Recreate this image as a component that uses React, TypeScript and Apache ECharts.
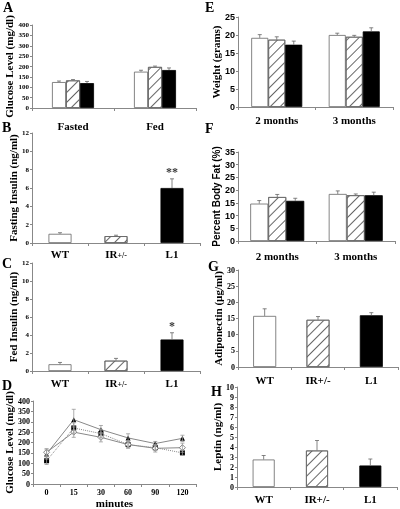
import React, { useEffect, useRef } from 'react';
import * as echarts from 'echarts';

// ---------- DATA ----------
const aCategories = ['Fasted', 'Fed'];
const aWT = [125, 175];
const aWTErr = [5, 7];
const aIR = [133, 198];
const aIRErr = [4, 4];
const aL1 = [120, 183];
const aL1Err = [8, 10];

const genotypes = ['WT', 'IR+/-', 'L1'];

const bValues = [1.0, 0.75, 6.0];
const bErr = [0.12, 0.1, 1.0];
const bMarks = ['', '', '**'];

const cValues = [0.75, 1.15, 3.5];
const cErr = [0.2, 0.25, 0.75];
const cMarks = ['', '', '*'];

const minutes = ['0', '15', '30', '60', '90', '120'];
const dTriangle = [145, 310, 262, 222, 195, 220];
const dTriangleErr = [25, 50, 20, 20, 10, 15];
const dSquare = [112, 270, 243, 190, 175, 150];
const dSquareErr = [18, 25, 20, 15, 12, 12];
const dDiamond = [153, 250, 225, 190, 172, 175];
const dDiamondErr = [15, 25, 22, 18, 18, 22];

const ageCategories = ['2 months', '3 months'];
const eWT = [19.2, 20.0];
const eWTErr = [0.9, 0.5];
const eIR = [18.7, 19.5];
const eIRErr = [0.8, 0.4];
const eL1 = [17.3, 21.0];
const eL1Err = [1.0, 1.0];

const fWT = [14.7, 18.5];
const fWTErr = [1.2, 1.2];
const fIR = [17.3, 18.0];
const fIRErr = [1.0, 0.5];
const fL1 = [15.8, 18.0];
const fL1Err = [1.0, 1.2];

const gValues = [15.8, 14.6, 16.0];
const gErr = [2.2, 1.0, 0.8];

const hValues = [2.75, 3.65, 2.15];
const hErr = [0.4, 1.0, 0.65];

// ---------- STYLES ----------
const serif = '"Liberation Serif", "Times New Roman", serif';
const sans = '"Liberation Sans", Arial, sans-serif';
const axisGray = '#888';

const styleWT = { color: '#fff', borderColor: '#666', borderWidth: 0.8 };
const styleIR = {
  color: '#fff',
  borderColor: '#666',
  borderWidth: 0.8,
  decal: {
    symbol: 'rect',
    symbolSize: 1,
    dashArrayX: [1, 0],
    dashArrayY: [1, 6],
    rotation: -Math.PI / 4,
    color: '#666',
    backgroundColor: '#fff',
  },
};
const styleL1 = { color: '#000', borderColor: '#000', borderWidth: 0.8 };
const groupStyles = [styleWT, styleIR, styleL1];

function errorBars(gi: number, values: number[], errs: number[], offset: number, both = false, color = '#666') {
  return {
    type: 'custom',
    xAxisIndex: gi,
    yAxisIndex: gi,
    silent: true,
    z: 5,
    data: values.map((v, i) => [i, v, errs[i]]),
    renderItem: (params: any, api: any) => {
      const i = api.value(0);
      const v = api.value(1);
      const e = api.value(2);
      const top = api.coord([i, v + e]);
      const base = api.coord([i, both ? v - e : v]);
      const x = top[0] + offset;
      const st = { stroke: color, lineWidth: 0.8, fill: null };
      const children: any[] = [
        { type: 'line', shape: { x1: x, y1: base[1], x2: x, y2: top[1] }, style: st },
        { type: 'line', shape: { x1: x - 2, y1: top[1], x2: x + 2, y2: top[1] }, style: st },
      ];
      if (both) {
        children.push({ type: 'line', shape: { x1: x - 2, y1: base[1], x2: x + 2, y2: base[1] }, style: st });
      }
      return { type: 'group', children };
    },
  };
}

function markSeries(gi: number, values: number[], errs: number[], marks: string[]) {
  return {
    type: 'scatter',
    xAxisIndex: gi,
    yAxisIndex: gi,
    silent: true,
    symbolSize: 1,
    itemStyle: { color: 'rgba(0,0,0,0)' },
    data: values.map((v, i) => (marks[i] ? [i, v + errs[i]] : [i, null])),
    label: {
      show: true,
      position: 'top',
      distance: 0,
      formatter: (p: any) => marks[p.dataIndex],
      color: '#000',
      fontFamily: serif,
      fontWeight: 'bold',
      fontSize: 12,
    },
  };
}

function yAx(gi: number, max: number, interval: number, name: string, opts: any) {
  return {
    type: 'value',
    gridIndex: gi,
    min: 0,
    max,
    interval,
    name,
    nameLocation: 'middle',
    nameGap: opts.nameGap,
    nameTextStyle: { fontFamily: opts.nameFont || serif, fontWeight: 'bold', fontSize: opts.nameSize || 11, color: '#000' },
    axisLine: { show: true, lineStyle: { color: axisGray, width: 1 } },
    axisTick: { show: true, length: 2, lineStyle: { color: axisGray } },
    splitLine: { show: false },
    axisLabel: { fontFamily: opts.tickFont || serif, fontWeight: 'bold', fontSize: opts.tickSize || 7, color: '#000', margin: 3 },
  };
}

function xAx(gi: number, data: string[], opts: any) {
  return {
    type: 'category',
    gridIndex: gi,
    data,
    axisLine: { show: true, lineStyle: { color: axisGray, width: 1 } },
    axisTick: { show: true, length: 3, lineStyle: { color: axisGray } },
    axisLabel: {
      fontFamily: serif,
      fontWeight: 'bold',
      fontSize: opts.size || 11,
      color: '#000',
      margin: opts.margin,
      interval: 0,
      formatter: opts.formatter,
      rich: opts.rich,
    },
    name: opts.name,
    nameLocation: 'middle',
    nameGap: opts.nameGap,
    nameTextStyle: { fontFamily: serif, fontWeight: 'bold', fontSize: 11, color: '#000' },
  };
}

function groupedBars(gi: number, vals: number[][], errs: number[][], bw: number) {
  const s: any[] = [];
  vals.forEach((v, k) => {
    s.push({
      type: 'bar',
      xAxisIndex: gi,
      yAxisIndex: gi,
      data: v,
      barWidth: bw,
      barGap: '0%',
      itemStyle: groupStyles[k],
    });
  });
  vals.forEach((v, k) => {
    s.push(errorBars(gi, v, errs[k], (k - 1) * bw));
  });
  return s;
}

function singleBars(gi: number, vals: number[], errs: number[], bw: number, marks?: string[]) {
  const s: any[] = [
    {
      type: 'bar',
      xAxisIndex: gi,
      yAxisIndex: gi,
      barWidth: bw,
      data: vals.map((v, i) => ({ value: v, itemStyle: groupStyles[i] })),
    },
    errorBars(gi, vals, errs, 0),
  ];
  if (marks) s.push(markSeries(gi, vals, errs, marks));
  return s;
}

const irRich = { s: { fontFamily: serif, fontWeight: 'bold', fontSize: 8, color: '#000', verticalAlign: 'bottom' } };
const irFormatter = (v: string) => (v === 'IR+/-' ? 'IR{s|+/-}' : v);

function letter(text: string, x: number, y: number) {
  return {
    type: 'text',
    left: x,
    top: y,
    style: { text, font: `bold 14px ${serif}`, fill: '#000' },
  };
}

export default function App() {
  const ref = useRef<HTMLDivElement>(null);
  useEffect(() => {
    if (!ref.current) return;
    const chart = echarts.init(ref.current, undefined, { renderer: 'svg' });
    const grids = [
      { left: 32, top: 25, width: 164, height: 83 }, // A
      { left: 32, top: 133, width: 168, height: 110 }, // B
      { left: 32, top: 263, width: 168, height: 108 }, // C
      { left: 33, top: 401, width: 163, height: 89 }, // D
      { left: 238, top: 17, width: 155, height: 90 }, // E
      { left: 238, top: 152, width: 157, height: 89 }, // F
      { left: 238, top: 270, width: 160, height: 97 }, // G
      { left: 237, top: 387, width: 160, height: 100 }, // H
    ];
    const option: any = {
      animation: false,
      grid: grids.map((g) => ({ ...g, containLabel: false })),
      xAxis: [
        xAx(0, aCategories, { margin: 12 }),
        xAx(1, genotypes, { margin: 5, formatter: irFormatter, rich: irRich }),
        xAx(2, genotypes, { margin: 6, formatter: irFormatter, rich: irRich }),
        xAx(3, minutes, { margin: 4, size: 8, name: 'minutes', nameGap: 13 }),
        xAx(4, ageCategories, { margin: 7 }),
        xAx(5, ageCategories, { margin: 9 }),
        xAx(6, genotypes, { margin: 7 }),
        xAx(7, genotypes, { margin: 6 }),
      ],
      yAxis: [
        yAx(0, 400, 50, 'Glucose Level (mg/dl)', { nameGap: 14, tickSize: 7 }),
        yAx(1, 12, 2, 'Fasting Insulin (ng/ml)', { nameGap: 14, tickSize: 7 }),
        yAx(2, 12, 2, 'Fed Insulin (ng/ml)', { nameGap: 14, tickSize: 7 }),
        yAx(3, 400, 50, 'Glucose Level (mg/dl)', { nameGap: 14, tickSize: 8 }),
        yAx(4, 25, 5, 'Weight (grams)', { nameGap: 11, tickSize: 9, tickFont: sans }),
        yAx(5, 35, 5, 'Percent Body Fat (%)', { nameGap: 11, tickSize: 9, tickFont: sans, nameFont: sans, nameSize: 10 }),
        yAx(6, 30, 5, 'Adiponectin (µg/ml)', { nameGap: 12, tickSize: 8 }),
        yAx(7, 10, 1, 'Leptin (ng/ml)', { nameGap: 11, tickSize: 8 }),
      ],
      series: [
        ...groupedBars(0, [aWT, aIR, aL1], [aWTErr, aIRErr, aL1Err], 14),
        ...singleBars(1, bValues, bErr, 23, bMarks),
        ...singleBars(2, cValues, cErr, 23, cMarks),
        {
          type: 'line',
          xAxisIndex: 3,
          yAxisIndex: 3,
          data: dTriangle,
          symbol: 'triangle',
          symbolSize: 5,
          itemStyle: { color: '#000' },
          lineStyle: { color: '#888', width: 1 },
          z: 4,
        },
        {
          type: 'line',
          xAxisIndex: 3,
          yAxisIndex: 3,
          data: dSquare,
          symbol: 'rect',
          symbolSize: 5,
          itemStyle: { color: '#000' },
          lineStyle: { color: '#888', width: 1, type: 'dotted' },
          z: 4,
        },
        {
          type: 'line',
          xAxisIndex: 3,
          yAxisIndex: 3,
          data: dDiamond,
          symbol: 'diamond',
          symbolSize: 6,
          itemStyle: { color: '#fff', borderColor: '#666', borderWidth: 0.8 },
          lineStyle: { color: '#888', width: 1 },
          z: 4,
        },
        errorBars(3, dTriangle, dTriangleErr, 0, true, '#999'),
        errorBars(3, dSquare, dSquareErr, 0, true, '#999'),
        errorBars(3, dDiamond, dDiamondErr, 0, true, '#999'),
        ...groupedBars(4, [eWT, eIR, eL1], [eWTErr, eIRErr, eL1Err], 17),
        ...groupedBars(5, [fWT, fIR, fL1], [fWTErr, fIRErr, fL1Err], 18),
        ...singleBars(6, gValues, gErr, 23),
        ...singleBars(7, hValues, hErr, 22),
      ],
      graphic: [
        letter('A', 3, 0),
        letter('B', 2, 120),
        letter('C', 2, 256),
        letter('D', 2, 378),
        letter('E', 205, 0),
        letter('F', 205, 121),
        letter('G', 208, 259),
        letter('H', 211, 384),
      ],
    };
    chart.setOption(option);
    return () => chart.dispose();
  }, []);
  return (
    <div
      ref={ref}
      style={{ position: 'absolute', left: 0, top: 0, width: 400, height: 509, willChange: 'transform' }}
    />
  );
}
